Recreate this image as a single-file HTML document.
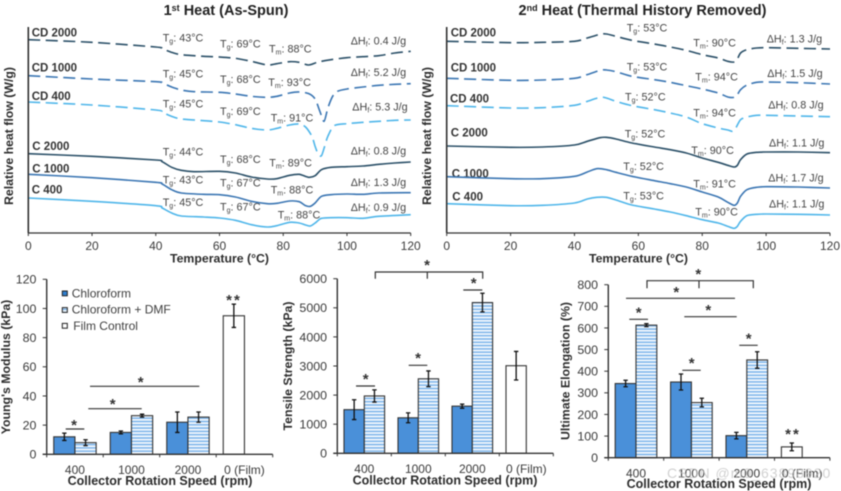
<!DOCTYPE html>
<html>
<head>
<meta charset="utf-8">
<style>
html,body{margin:0;padding:0;background:#fff;width:841px;height:491px;overflow:hidden}
svg{display:block;filter:blur(0.4px)}
text{font-family:"Liberation Sans",sans-serif;fill:#3a3a3a}
.an{font-size:10.8px;fill:#444}
.an tspan.s{font-size:7px}
.se{font-size:11.5px;font-weight:bold;fill:#333}
.ti{font-size:14.5px;font-weight:bold;fill:#222}
.ax{font-size:12.3px;font-weight:bold;fill:#2c2c2c}
.leg{font-size:12px;fill:#404040}
.st{font-size:15px;font-weight:bold;fill:#333;text-anchor:middle}
</style>
</head>
<body>
<svg id="fig" xmlns="http://www.w3.org/2000/svg" width="841" height="491" viewBox="0 0 841 491">
<defs>
<pattern id="stripes" width="4" height="3.3" patternUnits="userSpaceOnUse">
<rect width="4" height="3.3" fill="#86baec"/>
<rect width="4" height="1.5" fill="#ffffff"/>
</pattern>
</defs>

<g id="panel-a">
<text class="ti" x="226" y="15" text-anchor="middle">1<tspan font-size="9" dy="-4">st</tspan><tspan dy="4"> Heat (As-Spun)</tspan></text>
<text class="ax" transform="translate(13,136) rotate(-90)" text-anchor="middle">Relative heat flow (W/g)</text>
<text class="ax" x="219.5" y="262.5" text-anchor="middle">Temperature (°C)</text>
<g>
<text class="se" x="31.7" y="36.7">CD 2000</text>
<text class="se" x="31.7" y="71.3">CD 1000</text>
<text class="se" x="31.7" y="100">CD 400</text>
<text class="se" x="32.3" y="150">C 2000</text>
<text class="se" x="32.3" y="172.7">C 1000</text>
<text class="se" x="31.7" y="193.3">C 400</text>
</g>
<g>
<text class="an" x="162.7" y="41.7">T<tspan class="s" dy="2">g</tspan><tspan dy="-2">: 43°C</tspan></text>
<text class="an" x="220" y="47.7">T<tspan class="s" dy="2">g</tspan><tspan dy="-2">: 69°C</tspan></text>
<text class="an" x="269" y="52.7">T<tspan class="s" dy="2">m</tspan><tspan dy="-2">: 88°C</tspan></text>
<text class="an" x="350.7" y="44.3">ΔH<tspan class="s" dy="2">f</tspan><tspan dy="-2">: 0.4 J/g</tspan></text>
<text class="an" x="162.7" y="77.7">T<tspan class="s" dy="2">g</tspan><tspan dy="-2">: 45°C</tspan></text>
<text class="an" x="220" y="83">T<tspan class="s" dy="2">g</tspan><tspan dy="-2">: 68°C</tspan></text>
<text class="an" x="268.3" y="86">T<tspan class="s" dy="2">m</tspan><tspan dy="-2">: 93°C</tspan></text>
<text class="an" x="350.7" y="76">ΔH<tspan class="s" dy="2">f</tspan><tspan dy="-2">: 5.2 J/g</tspan></text>
<text class="an" x="162.7" y="107.7">T<tspan class="s" dy="2">g</tspan><tspan dy="-2">: 45°C</tspan></text>
<text class="an" x="220" y="115">T<tspan class="s" dy="2">g</tspan><tspan dy="-2">: 69°C</tspan></text>
<text class="an" x="270.7" y="121.7">T<tspan class="s" dy="2">m</tspan><tspan dy="-2">: 91°C</tspan></text>
<text class="an" x="352.3" y="110.7">ΔH<tspan class="s" dy="2">f</tspan><tspan dy="-2">: 5.3 J/g</tspan></text>
<text class="an" x="162.7" y="155.7">T<tspan class="s" dy="2">g</tspan><tspan dy="-2">: 44°C</tspan></text>
<text class="an" x="220" y="163">T<tspan class="s" dy="2">g</tspan><tspan dy="-2">: 68°C</tspan></text>
<text class="an" x="269.3" y="166.3">T<tspan class="s" dy="2">m</tspan><tspan dy="-2">: 89°C</tspan></text>
<text class="an" x="350.7" y="154.3">ΔH<tspan class="s" dy="2">f</tspan><tspan dy="-2">: 0.8 J/g</tspan></text>
<text class="an" x="162.7" y="183.3">T<tspan class="s" dy="2">g</tspan><tspan dy="-2">: 43°C</tspan></text>
<text class="an" x="220" y="186.3">T<tspan class="s" dy="2">g</tspan><tspan dy="-2">: 67°C</tspan></text>
<text class="an" x="270.7" y="193.3">T<tspan class="s" dy="2">m</tspan><tspan dy="-2">: 88°C</tspan></text>
<text class="an" x="350.7" y="186">ΔH<tspan class="s" dy="2">f</tspan><tspan dy="-2">: 1.3 J/g</tspan></text>
<text class="an" x="162.7" y="206">T<tspan class="s" dy="2">g</tspan><tspan dy="-2">: 45°C</tspan></text>
<text class="an" x="220" y="210.7">T<tspan class="s" dy="2">g</tspan><tspan dy="-2">: 67°C</tspan></text>
<text class="an" x="277.7" y="218.3">T<tspan class="s" dy="2">m</tspan><tspan dy="-2">: 88°C</tspan></text>
<text class="an" x="350.7" y="211">ΔH<tspan class="s" dy="2">f</tspan><tspan dy="-2">: 0.9 J/g</tspan></text>
</g>
</g>

<g id="panel-b">
<text class="ti" x="642.5" y="15" text-anchor="middle">2<tspan font-size="9" dy="-4">nd</tspan><tspan dy="4"> Heat (Thermal History Removed)</tspan></text>
<text class="ax" transform="translate(431,136) rotate(-90)" text-anchor="middle">Relative heat flow (W/g)</text>
<text class="ax" x="638.5" y="262.5" text-anchor="middle">Temperature (°C)</text>
<g>
<text class="se" x="450.7" y="36.7">CD 2000</text>
<text class="se" x="450.7" y="71.7">CD 1000</text>
<text class="se" x="450" y="102.7">CD 400</text>
<text class="se" x="450.7" y="136.7">C 2000</text>
<text class="se" x="451.7" y="177.7">C 1000</text>
<text class="se" x="452.3" y="200.7">C 400</text>
</g>
<g>
<text class="an" x="626.7" y="31.7">T<tspan class="s" dy="2">g</tspan><tspan dy="-2">: 53°C</tspan></text>
<text class="an" x="693.3" y="46.7">T<tspan class="s" dy="2">m</tspan><tspan dy="-2">: 90°C</tspan></text>
<text class="an" x="766.7" y="42.7">ΔH<tspan class="s" dy="2">f</tspan><tspan dy="-2">: 1.3 J/g</tspan></text>
<text class="an" x="626.7" y="70.7">T<tspan class="s" dy="2">g</tspan><tspan dy="-2">: 53°C</tspan></text>
<text class="an" x="695.3" y="80.7">T<tspan class="s" dy="2">m</tspan><tspan dy="-2">: 94°C</tspan></text>
<text class="an" x="767.3" y="77">ΔH<tspan class="s" dy="2">f</tspan><tspan dy="-2">: 1.5 J/g</tspan></text>
<text class="an" x="625" y="100.7">T<tspan class="s" dy="2">g</tspan><tspan dy="-2">: 52°C</tspan></text>
<text class="an" x="693.3" y="116.3">T<tspan class="s" dy="2">m</tspan><tspan dy="-2">: 94°C</tspan></text>
<text class="an" x="768.3" y="108.7">ΔH<tspan class="s" dy="2">f</tspan><tspan dy="-2">: 0.8 J/g</tspan></text>
<text class="an" x="624.7" y="137.3">T<tspan class="s" dy="2">g</tspan><tspan dy="-2">: 52°C</tspan></text>
<text class="an" x="691.3" y="154">T<tspan class="s" dy="2">m</tspan><tspan dy="-2">: 90°C</tspan></text>
<text class="an" x="769" y="146.3">ΔH<tspan class="s" dy="2">f</tspan><tspan dy="-2">: 1.1 J/g</tspan></text>
<text class="an" x="623.3" y="170">T<tspan class="s" dy="2">g</tspan><tspan dy="-2">: 52°C</tspan></text>
<text class="an" x="693.3" y="187.7">T<tspan class="s" dy="2">m</tspan><tspan dy="-2">: 91°C</tspan></text>
<text class="an" x="768.3" y="181.7">ΔH<tspan class="s" dy="2">f</tspan><tspan dy="-2">: 1.7 J/g</tspan></text>
<text class="an" x="623.3" y="199.3">T<tspan class="s" dy="2">g</tspan><tspan dy="-2">: 53°C</tspan></text>
<text class="an" x="695.3" y="215.3">T<tspan class="s" dy="2">m</tspan><tspan dy="-2">: 90°C</tspan></text>
<text class="an" x="769" y="207.7">ΔH<tspan class="s" dy="2">f</tspan><tspan dy="-2">: 1.1 J/g</tspan></text>
</g>
</g>

<g id="panel-c">
<text class="ax" transform="translate(10,367) rotate(-90)" text-anchor="middle">Young's Modulus (kPa)</text>
<text class="ax" x="160" y="485" text-anchor="middle" style="font-size:12.5px">Collector Rotation Speed (rpm)</text>
</g>
<g id="panel-d">
<text class="ax" transform="translate(292,366) rotate(-90)" text-anchor="middle">Tensile Strength (kPa)</text>
<text class="ax" x="445" y="484.3" text-anchor="middle" style="font-size:12.5px">Collector Rotation Speed (rpm)</text>
</g>
<g id="panel-e">
<text class="ax" transform="translate(569.5,371) rotate(-90)" text-anchor="middle">Ultimate Elongation (%)</text>
<text class="ax" x="719" y="488" text-anchor="middle" style="font-size:12.5px">Collector Rotation Speed (rpm)</text>
</g>

<g>
<rect x="62.3" y="291" width="5" height="4.8" fill="#2f7fd0" stroke="#222" stroke-width="1"/>
<text class="leg" x="71.7" y="297.3">Chloroform</text>
<rect x="62.3" y="307.6" width="5" height="4.8" fill="url(#stripes)" stroke="#222" stroke-width="1"/>
<text class="leg" x="71.7" y="313.3">Chloroform + DMF</text>
<rect x="62.3" y="323.4" width="5" height="4.8" fill="#fff" stroke="#222" stroke-width="1"/>
<text class="leg" x="73.3" y="330">Film Control</text>
</g>

<g stroke="#333" stroke-width="1.2" fill="none">
<path d="M65.7 429H84.3M88.3 408.7H141.7M90 386.3H199.3"/>
</g>
<g>
<text class="st" x="74" y="430">*</text>
<text class="st" x="112.7" y="409">*</text>
<text class="st" x="140.7" y="387">*</text>
<text class="st" x="234" y="305" letter-spacing="2">**</text>
</g>

<g stroke="#333" stroke-width="1.2" fill="none">
<path d="M375.3 278.7V272H482.7V278.7M427.3 272V278.7M356 386H375M408.7 365.3H427.3M463.3 290H482.3"/>
</g>
<g>
<text class="st" x="427" y="270">*</text>
<text class="st" x="365.7" y="384">*</text>
<text class="st" x="418" y="363">*</text>
<text class="st" x="473.7" y="288">*</text>
</g>

<g stroke="#333" stroke-width="1.2" fill="none">
<path d="M647 288.3V280.7H753.3V288.3M699 280.7V288.3M626 298.3H735M684.3 316.7H736.7M629.3 319.3H648M682.3 370.3H700.7M739.3 345.3H757.7"/>
</g>
<g>
<text class="st" x="698.3" y="279">*</text>
<text class="st" x="676.3" y="297">*</text>
<text class="st" x="708.3" y="315">*</text>
<text class="st" x="638.7" y="317.5">*</text>
<text class="st" x="691.7" y="368">*</text>
<text class="st" x="748.7" y="343.5">*</text>
<text class="st" x="793" y="439" letter-spacing="2">**</text>
</g>

<g id="marks"></g>
<text x="667" y="478" font-size="14" letter-spacing="1" style="fill:#bdbdbd" opacity="0.7">CSDN @m0_63898920</text>
</svg>

<script>
/* Thermogram values: [temperature in °C, relative heat flow in arbitrary units] */
const tempTicks = [0, 20, 40, 60, 80, 100, 120];

const firstCd2000 = [[0,580],[20,572],[40,558],[42,553],[45,542],[48,535],[55,530],[60,528],[65,524],[70,515],[75,504],[78,508],[82,514],[85,512],[88,504],[91,513],[95,520],[100,526],[105,529],[110,532],[115,540],[120,545]];
const firstCd1000 = [[0,472],[20,462],[40,454],[42,450],[45,438],[48,429],[52,424],[60,422],[65,417],[70,410],[75,407],[78,410],[82,420],[85,423],[88,418],[90,402],[91.5,365],[92.8,335],[94,375],[95.5,410],[97,425],[100,432],[105,438],[110,443],[115,446],[120,448]];
const firstCd400 = [[0,393],[20,384],[40,369],[42,362],[45,350],[48,342],[55,337],[60,333],[65,325],[70,314],[75,309],[78,314],[82,324],[85,327],[87,318],[89,290],[90,260],[91,236],[92,232],[93,260],[94,290],[96,322],[100,328],[105,332],[110,335],[115,338],[120,339]];
const firstC2000 = [[0,238],[20,230],[40,219],[42,214],[45,197],[48,188],[52,184],[60,185],[65,180],[70,168],[75,162],[78,163],[82,173],[85,176],[88,167],[90,172],[92,190],[95,197],[100,199],[105,201],[110,206],[115,210],[120,213]];
const firstC1000 = [[0,176],[20,166],[40,152],[42,147],[45,130],[48,120],[55,116],[60,115],[65,108],[70,95],[75,88],[78,89],[82,96],[85,94],[87,82],[88.5,80],[90,90],[92,110],[95,115],[100,117],[105,116],[110,120],[120,121]];
const firstC400 = [[0,105],[20,95],[40,82],[42,75],[45,60],[48,51],[55,48],[60,45],[65,38],[70,25],[75,18],[78,22],[82,32],[85,30],[87,24],[88.5,21],[90,30],[91,38],[92,44],[95,46],[100,46],[105,44],[110,50],[120,55]];

const secondCd2000 = [[0,575],[20,571],[30,572],[40,575],[44,585],[48,596],[50,597],[53,590],[58,578],[65,567],[70,558],[75,548],[80,535],[85,525],[88,515],[90,513],[91,522],[92,540],[94,550],[97,555],[100,556],[110,554],[120,552]];
const secondCd1000 = [[0,464],[20,458],[30,459],[40,464],[44,475],[48,488],[50,489],[53,484],[58,470],[65,460],[70,452],[75,442],[80,432],[85,420],[88,408],[90,407],[91,415],[92,430],[94,444],[97,452],[100,453],[110,451],[120,447]];
const secondCd400 = [[0,382],[20,375],[30,376],[40,383],[44,395],[48,407],[50,405],[53,395],[58,382],[65,370],[70,360],[75,348],[80,328],[85,315],[88,309],[89.5,305],[90.5,315],[92,340],[94,348],[97,353],[100,353],[110,351],[120,349]];
const secondC2000 = [[0,261],[20,257],[30,258],[40,264],[44,275],[48,286],[50,287],[53,282],[58,270],[65,258],[70,250],[75,240],[80,225],[85,212],[88,203],[90,198],[91,203],[92,220],[94,237],[97,242],[100,243],[110,243],[120,241]];
const secondC1000 = [[0,169],[20,163],[30,163],[40,170],[44,183],[47,193],[50,190],[53,182],[58,170],[65,157],[70,148],[75,138],[80,123],[85,108],[88,92],[90,83],[91,90],[92,110],[94,130],[97,137],[100,139],[110,138],[120,135]];
const secondC400 = [[0,88],[20,82],[30,83],[40,90],[44,102],[47,107],[50,107],[53,99],[58,84],[65,72],[70,63],[75,52],[80,40],[85,30],[88,20],[90,14],[91,20],[92,35],[94,52],[97,56],[100,57],[110,56],[120,54]];

/* Bar chart values */
const speedLabels = ["400", "1000", "2000", "0 (Film)"];

const modulusTicks = [0, 20, 40, 60, 80, 100, 120];
const modulusChloroform = [12, 15, 22];
const modulusChloroformErr = [2.5, 1, 7];
const modulusDmf = [8, 26.5, 25.5];
const modulusDmfErr = [2, 1, 3.5];
const modulusFilm = [95];
const modulusFilmErr = [8];

const tensileTicks = [0, 1000, 2000, 3000, 4000, 5000, 6000];
const tensileChloroform = [1500, 1220, 1620];
const tensileChloroformErr = [340, 170, 70];
const tensileDmf = [1970, 2560, 5180];
const tensileDmfErr = [210, 270, 320];
const tensileFilm = [3010];
const tensileFilmErr = [490];

const elongationTicks = [0, 100, 200, 300, 400, 500, 600, 700, 800];
const elongationChloroform = [343, 350, 102];
const elongationChloroformErr = [15, 37, 15];
const elongationDmf = [613, 255, 452];
const elongationDmfErr = [7, 20, 38];
const elongationFilm = [50];
const elongationFilmErr = [18];

const NS = "http://www.w3.org/2000/svg";
const root = document.getElementById("marks");

function make(tag, attrs, parent) {
  const el = document.createElementNS(NS, tag);
  for (const k in attrs) el.setAttribute(k, attrs[k]);
  (parent || root).appendChild(el);
  return el;
}

function smoothPath(pts) {
  let d = "M" + pts[0][0].toFixed(2) + " " + pts[0][1].toFixed(2);
  for (let i = 0; i < pts.length - 1; i++) {
    const p0 = pts[Math.max(i - 1, 0)], p1 = pts[i], p2 = pts[i + 1], p3 = pts[Math.min(i + 2, pts.length - 1)];
    const c1x = p1[0] + (p2[0] - p0[0]) / 7, c1y = p1[1] + (p2[1] - p0[1]) / 7;
    const c2x = p2[0] - (p3[0] - p1[0]) / 7, c2y = p2[1] - (p3[1] - p1[1]) / 7;
    d += "C" + c1x.toFixed(2) + " " + c1y.toFixed(2) + " " + c2x.toFixed(2) + " " + c2y.toFixed(2) + " " + p2[0].toFixed(2) + " " + p2[1].toFixed(2);
  }
  return d;
}

function drawThermogram(panelId, x0, x120, curves) {
  const g = document.getElementById(panelId);
  const xScale = t => x0 + (x120 - x0) * t / 120;
  const yBottom = 233;
  const yScale = v => yBottom - v / 3;

  curves.forEach(c => {
    const attrs = { d: smoothPath(c.data.map(p => [xScale(p[0]), yScale(p[1])])), fill: "none", stroke: c.color, "stroke-width": 1.6 };
    if (c.dash) attrs["stroke-dasharray"] = "12 5.5";
    const path = make("path", attrs, g);
    
    
  });

  const yAxis = make("line", { x1: x0, x2: x0, y1: 27, y2: yBottom, stroke: "#333", "stroke-width": 1.6 }, g);
  
  
  const xAxis = make("line", { x1: x0, x2: x120, y1: yBottom, y2: yBottom, stroke: "#333", "stroke-width": 1.3 }, g);
  
  

  tempTicks.forEach(t => {
    const tick = make("line", { x1: xScale(t), x2: xScale(t), y1: yBottom, y2: yBottom + 3, stroke: "#333", "stroke-width": 1 }, g);
    
    
    const label = make("text", { x: xScale(t), y: 250, "text-anchor": "middle", "font-size": 12 }, g);
    
    
    label.textContent = t;
  });
}

function drawBars(panelId, cfg) {
  const g = document.getElementById(panelId);
  const yScale = v => cfg.y0 - (cfg.y0 - cfg.yTop) * v / cfg.yMax;
  const centre = i => cfg.x0 + cfg.band * (i + 0.5);

  function bar(cx, w, value, err, fill, name) {
    const rect = make("rect", { x: cx, y: yScale(value), width: w, height: cfg.y0 - yScale(value), fill: fill, stroke: "#333", "stroke-width": 1.1 }, g);
    
    
    const mid = cx + w / 2;
    const eb = make("path", { d: "M" + mid + " " + yScale(value + err) + "V" + yScale(value - err) + "M" + (mid - 2.2) + " " + yScale(value + err) + "h4.4M" + (mid - 2.2) + " " + yScale(value - err) + "h4.4", stroke: "#111", "stroke-width": 1.3, fill: "none" }, g);
    
    
  }

  cfg.chloroform.forEach((v, i) => bar(centre(i) - cfg.barW, cfg.barW, v, cfg.chloroformErr[i], "#4a90d9", "bar-chloroform-" + speedLabels[i]));
  cfg.dmf.forEach((v, i) => bar(centre(i), cfg.barW, v, cfg.dmfErr[i], "url(#stripes)", "bar-chloroform-dmf-" + speedLabels[i]));
  cfg.film.forEach((v, i) => bar(centre(3) - cfg.barW, cfg.barW, v, cfg.filmErr[i], "#fff", "bar-film-control"));

  const xEnd = cfg.x0 + cfg.band * 4;
  const xAxis = make("line", { x1: cfg.x0 - 4, x2: xEnd, y1: cfg.y0, y2: cfg.y0, stroke: "#333", "stroke-width": 1.4 }, g);
  
  
  const yAxis = make("line", { x1: cfg.x0, x2: cfg.x0, y1: cfg.yTop, y2: cfg.y0, stroke: "#333", "stroke-width": 1.4 }, g);
  
  

  for (let i = 0; i <= 4; i++) {
    const x = cfg.x0 + cfg.band * i;
    const tick = make("line", { x1: x, x2: x, y1: cfg.y0, y2: cfg.y0 + 3, stroke: "#333", "stroke-width": 1 }, g);
    
    
  }
  speedLabels.forEach((s, i) => {
    const label = make("text", { x: centre(i), y: cfg.labelY, "text-anchor": "middle", "font-size": 12 }, g);
    
    
    label.textContent = s;
  });
  cfg.ticks.forEach(t => {
    const y = yScale(t);
    const tick = make("line", { x1: cfg.x0 - 4, x2: cfg.x0, y1: y, y2: y, stroke: "#333", "stroke-width": 1 }, g);
    
    
    const label = make("text", { x: cfg.x0 - 10.3, y: y + 4.4, "text-anchor": "end", "font-size": 12.4 }, g);
    
    
    label.textContent = t;
  });
}

const DARK = "#2b5068", MID = "#3b76b3", LIGHT = "#4fb6ea";

drawThermogram("panel-a", 28.3, 410.7, [
  { name: "cd-2000", data: firstCd2000, color: DARK, dash: true },
  { name: "cd-1000", data: firstCd1000, color: MID, dash: true },
  { name: "cd-400", data: firstCd400, color: LIGHT, dash: true },
  { name: "c-2000", data: firstC2000, color: DARK },
  { name: "c-1000", data: firstC1000, color: MID },
  { name: "c-400", data: firstC400, color: LIGHT }
]);
drawThermogram("panel-b", 446.7, 830, [
  { name: "cd-2000", data: secondCd2000, color: DARK, dash: true },
  { name: "cd-1000", data: secondCd1000, color: MID, dash: true },
  { name: "cd-400", data: secondCd400, color: LIGHT, dash: true },
  { name: "c-2000", data: secondC2000, color: DARK },
  { name: "c-1000", data: secondC1000, color: MID },
  { name: "c-400", data: secondC400, color: LIGHT }
]);

drawBars("panel-c", { x0: 46.7, band: 56.5, barW: 21.2, y0: 454.3, yTop: 279.3, yMax: 120, ticks: modulusTicks, labelY: 474,
  chloroform: modulusChloroform, chloroformErr: modulusChloroformErr, dmf: modulusDmf, dmfErr: modulusDmfErr, film: modulusFilm, filmErr: modulusFilmErr });
drawBars("panel-d", { x0: 337.3, band: 54, barW: 20.3, y0: 453.3, yTop: 278.7, yMax: 6000, ticks: tensileTicks, labelY: 473,
  chloroform: tensileChloroform, chloroformErr: tensileChloroformErr, dmf: tensileDmf, dmfErr: tensileDmfErr, film: tensileFilm, filmErr: tensileFilmErr });
drawBars("panel-e", { x0: 608.3, band: 55.4, barW: 20.8, y0: 457.7, yTop: 284.7, yMax: 800, ticks: elongationTicks, labelY: 477.5,
  chloroform: elongationChloroform, chloroformErr: elongationChloroformErr, dmf: elongationDmf, dmfErr: elongationDmfErr, film: elongationFilm, filmErr: elongationFilmErr });
</script>
</body>
</html>
